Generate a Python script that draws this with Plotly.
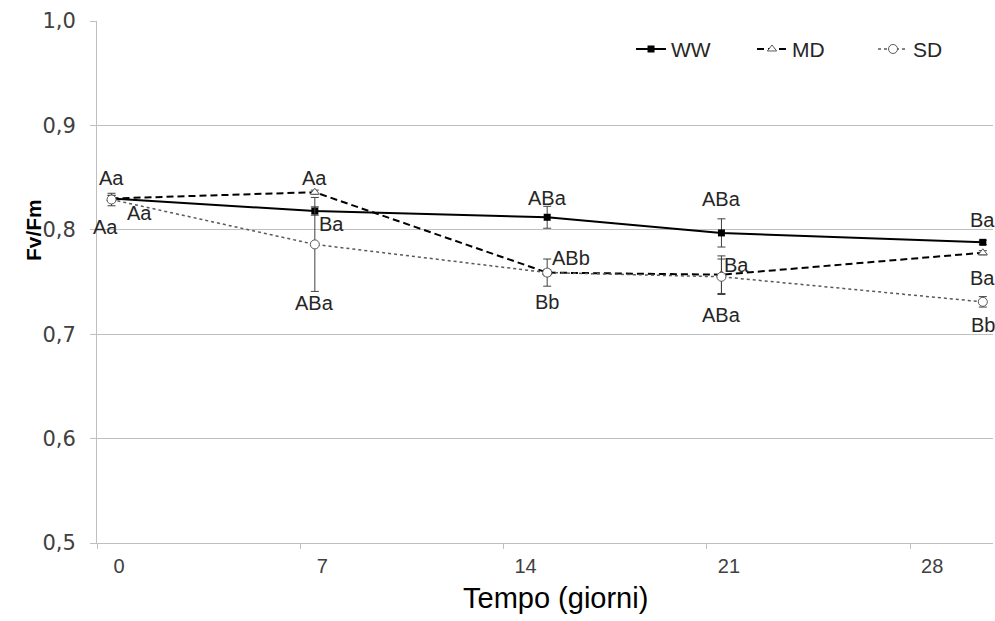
import plotly.graph_objects as go

# ---- data ----
days = [0.5, 7.5, 15.5, 21.5, 30.5]
ww = [0.830, 0.818, 0.812, 0.797, 0.788]
ww_err = [0.003, 0.004, 0.0105, 0.0135, 0.002]
md = [0.830, 0.836, 0.759, 0.757, 0.778]
md_err = [0.003, 0.002, 0.003, 0.018, 0.002]
sd = [0.829, 0.786, 0.759, 0.755, 0.731]
sd_err = [0.006, 0.045, 0.013, 0.017, 0.005]

ww_lab = ["Aa", "Ba", "ABa", "ABa", "Ba"]
md_lab = ["Aa", "Aa", "ABb", "Ba", "Ba"]
sd_lab = ["Aa", "ABa", "Bb", "ABa", "Bb"]

x_ticks = [0, 7, 14, 21, 28]
y_ticks = [0.5, 0.6, 0.7, 0.8, 0.9, 1.0]

# label pixel offsets (style)
ww_off = [(0, 20), (17, -13), (0, 19), (0, 34), (0, 22)]
md_off = [(28, -15), (0, 14), (24, 15), (15, 10), (0, -25)]
sd_off = [(-6, -27), (0, -59), (0, -29), (0, -38), (0, -23)]

FONT = "Liberation Sans, Arial, sans-serif"
GRAY = "#595959"

fig = go.Figure()
fig.add_trace(go.Scatter(
    x=days, y=ww, name="WW", mode="lines+markers",
    line=dict(color="black", width=2),
    marker=dict(symbol="square", size=7, color="black"),
    error_y=dict(type="data", array=ww_err, color="#404040", thickness=1, width=4),
))
fig.add_trace(go.Scatter(
    x=days, y=md, name="MD", mode="lines+markers",
    line=dict(color="black", width=2, dash="7px,4px"),
    marker=dict(symbol="triangle-up", size=8, color="white",
                line=dict(color=GRAY, width=1)),
    error_y=dict(type="data", array=md_err, color="#404040", thickness=1, width=4),
))
fig.add_trace(go.Scatter(
    x=days, y=sd, name="SD", mode="lines+markers",
    line=dict(color=GRAY, width=1.5, dash="dot"),
    marker=dict(symbol="circle", size=9, color="white",
                line=dict(color=GRAY, width=1)),
    error_y=dict(type="data", array=sd_err, color="#404040", thickness=1, width=4),
))

for ys, labs, offs in ((ww, ww_lab, ww_off), (md, md_lab, md_off), (sd, sd_lab, sd_off)):
    for xv, yv, t, (dx, dy) in zip(days, ys, labs, offs):
        fig.add_annotation(x=xv, y=yv, text=t, showarrow=False,
                           xshift=dx, yshift=dy,
                           font=dict(family=FONT, size=20, color="#262626"))

fig.add_annotation(xref="paper", yref="paper", x=-0.07, y=0.6,
                   xanchor="center", yanchor="middle",
                   text="<b>Fv/Fm</b>", textangle=-90, showarrow=False,
                   font=dict(family=FONT, size=21, color="black"))
fig.add_annotation(xref="paper", yref="paper", x=0.512, y=-0.105,
                   xanchor="center", yanchor="middle",
                   text="Tempo (giorni)", showarrow=False,
                   font=dict(family=FONT, size=29, color="black"))

fig.update_layout(
    width=995, height=621,
    margin=dict(l=97, r=2, t=21, b=78, autoexpand=False),
    paper_bgcolor="white", plot_bgcolor="white",
    separators=",.",
    showlegend=True,
    legend=dict(orientation="h", x=0.596, y=0.985, xanchor="left", yanchor="top",
                font=dict(family=FONT, size=21, color="#262626"),
                entrywidth=76, entrywidthmode="pixels",
                itemwidth=30, bgcolor="rgba(0,0,0,0)"),
    font=dict(family=FONT),
)
fig.update_xaxes(
    range=[0, 30.85], tickvals=x_ticks, ticktext=[str(v) for v in x_ticks],
    showgrid=False, zeroline=False, showline=True, linecolor="#bfbfbf", linewidth=1,
    ticks="outside", ticklen=5, tickcolor="#bfbfbf", ticklabelshift=22,
    tickfont=dict(family=FONT, size=20, color="#404040"),
)
fig.update_yaxes(
    range=[0.5, 1.0], tickvals=y_ticks, tickformat=".1f",
    showgrid=True, gridcolor="#bfbfbf", gridwidth=1, zeroline=False,
    showline=True, linecolor="#bfbfbf", linewidth=1,
    ticks="outside", ticklen=6, tickcolor="#bfbfbf", ticklabelstandoff=10,
    tickfont=dict(family="DejaVu Sans, " + FONT, size=21, color="#404040"),
)

fig.write_html("out.html")
